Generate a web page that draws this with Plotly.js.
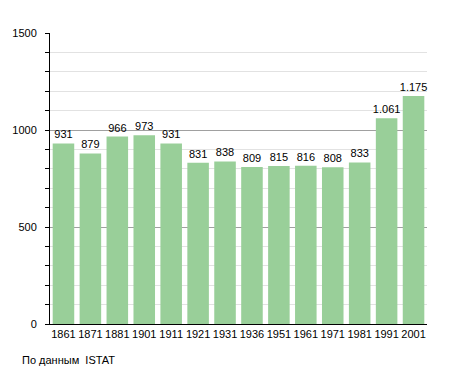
<!DOCTYPE html>
<html><head><meta charset="utf-8">
<script src="https://cdn.plot.ly/plotly-3.0.1.min.js"></script>
<style>body{margin:0;background:#fff}</style>
</head><body><div id="chart" style="width:455px;height:373px"></div>
<script>
const years = ["1861","1871","1881","1901","1911","1921","1931","1936","1951","1961","1971","1981","1991","2001"];
const population = [931,879,966,973,931,831,838,809,815,816,808,833,1061,1175];
const labels = ["931","879","966","973","931","831","838","809","815","816","808","833","1.061","1.175"];

const trace = {
  type:'bar', x:years, y:population, text:labels, textposition:'outside', constraintext:'none',
  textfont:{family:'Liberation Sans, Arial, sans-serif', size:11, color:'#000'},
  marker:{color:'rgb(153,207,153)'}, cliponaxis:false, hoverinfo:'none'
};
const layout = {
  width:455, height:373, margin:{l:50,r:28,t:33,b:49},
  paper_bgcolor:'#fff', plot_bgcolor:'#fff', showlegend:false, bargap:0.2,
  font:{family:'Liberation Sans, Arial, sans-serif', size:11, color:'#000'},
  xaxis:{type:'category', showline:true, linecolor:'#000', linewidth:1, ticks:'', tickfont:{size:11}, fixedrange:true},
  yaxis:{range:[0,1500], dtick:500, showline:true, linecolor:'#000', linewidth:1,
    ticks:'outside', ticklen:4, tickcolor:'#000', gridcolor:'#a0a0a0', zeroline:false,
    tickfont:{size:11}, ticklabelstandoff:6,
    minor:{dtick:100, showgrid:true, gridcolor:'#e2e2e2', ticks:'outside', ticklen:4, tickcolor:'#000'}},
  annotations:[{text:'По данным  ISTAT', xref:'paper', yref:'paper', x:-0.08, y:-0.095, xanchor:'left', yanchor:'top', showarrow:false, font:{size:11, color:'#000'}}]
};
Plotly.newPlot('chart',[trace],layout,{displayModeBar:false,staticPlot:true});
</script></body></html>
